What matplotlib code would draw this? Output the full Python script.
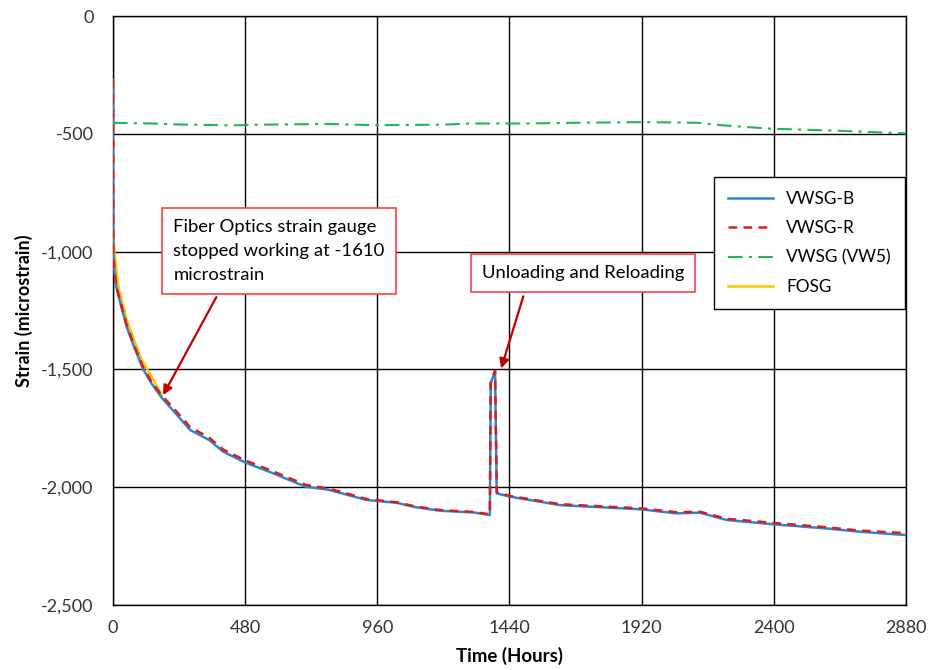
import matplotlib
matplotlib.use("Agg")
import matplotlib.pyplot as plt
from matplotlib.ticker import FuncFormatter

plt.rcParams['font.family'] = ['Lato', 'DejaVu Sans']

# VWSG-B
t_b = [0, 0.5, 5, 12, 25, 50, 75, 110, 140, 177, 230, 280, 350, 400, 480, 580, 700, 780, 860,
       920, 1030, 1100, 1190, 1310, 1369, 1372, 1376, 1388, 1394, 1442, 1624, 1920, 2047, 2132,
       2229, 2405, 2592, 2713, 2880]
s_b = [-270, -1000, -1080, -1150, -1210, -1320, -1400, -1500, -1560, -1620, -1690, -1757, -1800,
       -1849, -1895, -1940, -1998, -2010, -2035, -2054, -2066, -2085, -2100, -2107, -2118, -1560,
       -1545, -1510, -2026, -2040, -2076, -2094, -2111, -2108, -2139, -2158, -2175, -2189, -2203]

# VWSG-R
t_r = [0, 0.5, 5, 12, 25, 50, 75, 110, 140, 177, 230, 280, 350, 400, 480, 580, 700, 780, 860,
       920, 1030, 1100, 1190, 1310, 1369, 1372, 1376, 1388, 1394, 1442, 1624, 1920, 2047, 2132,
       2229, 2405, 2592, 2713, 2880]
s_r = [-270, -1000, -1078, -1146, -1205, -1312, -1392, -1492, -1552, -1610, -1678, -1745, -1790,
       -1840, -1886, -1932, -1990, -2005, -2030, -2050, -2064, -2082, -2097, -2105, -2115, -1555,
       -1540, -1505, -2022, -2037, -2072, -2090, -2106, -2104, -2134, -2152, -2170, -2184, -2195]

# VWSG (VW5)
t_g = [0, 144, 240, 432, 528, 778, 950, 1200, 1296, 1488, 1680, 1930, 2122, 2218, 2390, 2640, 2880]
s_g = [-453, -456, -460, -464, -461, -458, -463, -461, -456, -456, -453, -450, -453, -464, -478,
       -487, -498]

# FOSG
t_f = [0, 5, 20, 50, 100, 140, 177]
s_f = [-890, -1000, -1150, -1290, -1450, -1530, -1610]

x_ticks = [0, 480, 960, 1440, 1920, 2400, 2880]
y_ticks = [0, -500, -1000, -1500, -2000, -2500]

fig = plt.figure(figsize=(9.3, 6.7), dpi=100)
ax = fig.add_axes([0.1215, 0.097, 0.8525, 0.879])

ax.plot(t_b, s_b, color='#2E86D0', lw=1.8, label='VWSG-B', zorder=3)
ax.plot(t_r, s_r, color='#D62020', lw=1.8, ls=(0, (3.5, 2.5)), label='VWSG-R', zorder=4)
ax.plot(t_g, s_g, color='#1DB954', lw=1.5, ls=(0, (7, 3, 1.5, 3)), label='VWSG (VW5)', zorder=3)
ax.plot(t_f, s_f, color='#FFC000', lw=1.8, label='FOSG', zorder=2)

ax.set_xlim(0, 2880)
ax.set_ylim(-2500, 0)
ax.set_xticks(x_ticks)
ax.set_yticks(y_ticks)
ax.yaxis.set_major_formatter(FuncFormatter(lambda v, p: f"{int(v):,}"))
ax.grid(True, color='black', lw=1.0)
ax.set_axisbelow(True)
ax.tick_params(length=0, labelsize=13, colors='#333333')
ax.tick_params(axis='x', pad=11)
ax.tick_params(axis='y', pad=14)
for sp in ax.spines.values():
    sp.set_color('black')
    sp.set_linewidth(1.0)

ax.set_xlabel('Time (Hours)', fontsize=13.4, fontweight='bold', labelpad=8)
ax.set_ylabel('Strain (microstrain)', fontsize=13, fontweight='bold', labelpad=6)

leg = ax.legend(loc='upper right', bbox_to_anchor=(0.9987, 0.7267), borderaxespad=0,
                fontsize=12.4, frameon=True, fancybox=False, edgecolor='black', framealpha=1,
                handlelength=2.6, labelspacing=0.78, borderpad=0.8)
leg.get_frame().set_linewidth(1.0)

box = dict(boxstyle='square,pad=0.6', fc='white', ec='#FF4040', lw=1.2)
arrow = dict(arrowstyle='-|>', color='#C00000', lw=1.6, mutation_scale=14)
ax.annotate('Fiber Optics strain gauge\nstopped working at -1610\nmicrostrain',
            xy=(182, -1609), xytext=(219, -1133), fontsize=13.3, ha='left', va='bottom',
            bbox=box, arrowprops=dict(arrow, shrinkA=2, shrinkB=0, relpos=(0.24, 0.0)),
            zorder=6, linespacing=1.6)
ax.annotate('Unloading and Reloading', xy=(1410, -1496), xytext=(1339, -1123), fontsize=13.3,
            ha='left', va='bottom', bbox=box,
            arrowprops=dict(arrow, shrinkA=3, shrinkB=0, relpos=(0.23, 0.0)), zorder=6)

fig.savefig('out.png', dpi=100)
